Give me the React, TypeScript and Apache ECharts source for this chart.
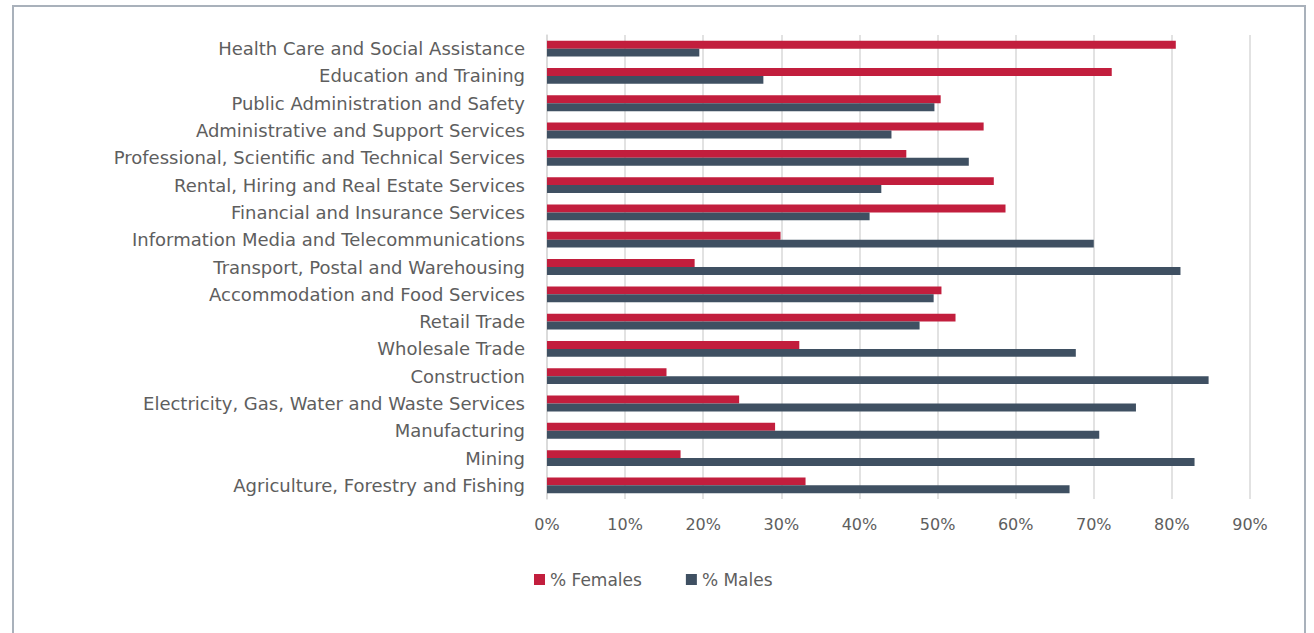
import React, { useEffect, useRef } from "react";
import * as echarts from "echarts";

const categories = [
  "Health Care and Social Assistance",
  "Education and Training",
  "Public Administration and Safety",
  "Administrative and Support Services",
  "Professional, Scientific and Technical Services",
  "Rental, Hiring and Real Estate Services",
  "Financial and Insurance Services",
  "Information Media and Telecommunications",
  "Transport, Postal and Warehousing",
  "Accommodation and Food Services",
  "Retail Trade",
  "Wholesale Trade",
  "Construction",
  "Electricity, Gas, Water and Waste Services",
  "Manufacturing",
  "Mining",
  "Agriculture, Forestry and Fishing",
];

const females = [80.5, 72.3, 50.4, 55.9, 46.0, 57.2, 58.7, 29.9, 18.9, 50.5, 52.3, 32.3, 15.3, 24.6, 29.2, 17.1, 33.1];
const males = [19.5, 27.7, 49.6, 44.1, 54.0, 42.8, 41.3, 70.0, 81.1, 49.5, 47.7, 67.7, 84.7, 75.4, 70.7, 82.9, 66.9];

const seriesNames = ["% Females", "% Males"];

const FONT = "DejaVu Sans";
const TEXT = "#5E5E5E";

export default function App() {
  const ref = useRef<HTMLDivElement>(null);
  useEffect(() => {
    document.body.style.margin = "0";
    const chart = echarts.init(ref.current!, null, { renderer: "svg" });
    chart.setOption({
      animation: false,
      backgroundColor: "#ffffff",
      textStyle: { fontFamily: FONT },
      graphic: [
        {
          type: "rect",
          shape: { x: 13, y: 6, width: 1292, height: 640 },
          style: { fill: "none", stroke: "#A9B1BB", lineWidth: 2 },
          silent: true,
        },
      ],
      grid: { left: 547, right: 64, top: 35, bottom: 134, containLabel: false },
      legend: {
        left: 529,
        top: 566,
        itemWidth: 11,
        itemHeight: 11,
        itemGap: 44,
        icon: "rect",
        textStyle: { color: TEXT, fontSize: 17, fontFamily: FONT },
        data: seriesNames,
      },
      xAxis: {
        type: "value",
        min: 0,
        max: 90,
        interval: 10,
        axisLabel: { formatter: "{value}%", color: TEXT, fontSize: 16, margin: 17, fontFamily: FONT },
        axisLine: { show: false },
        axisTick: { show: false },
        splitLine: { lineStyle: { color: "#D9D9D9", width: 1.5 } },
      },
      yAxis: {
        type: "category",
        data: categories,
        inverse: true,
        axisLine: { show: true, lineStyle: { color: "#D9D9D9", width: 1.5 } },
        axisTick: { show: false },
        axisLabel: { color: TEXT, fontSize: 18, margin: 22, fontFamily: FONT },
      },
      series: [
        {
          name: seriesNames[0],
          type: "bar",
          data: females,
          itemStyle: { color: "#C21E3D" },
          barGap: "0%",
          barCategoryGap: "42%",
        },
        {
          name: seriesNames[1],
          type: "bar",
          data: males,
          itemStyle: { color: "#3F5062" },
          barGap: "0%",
          barCategoryGap: "42%",
        },
      ],
    });
    return () => chart.dispose();
  }, []);
  return <div ref={ref} style={{ position: "fixed", left: 0, top: 0, width: 1314, height: 633 }} />;
}
